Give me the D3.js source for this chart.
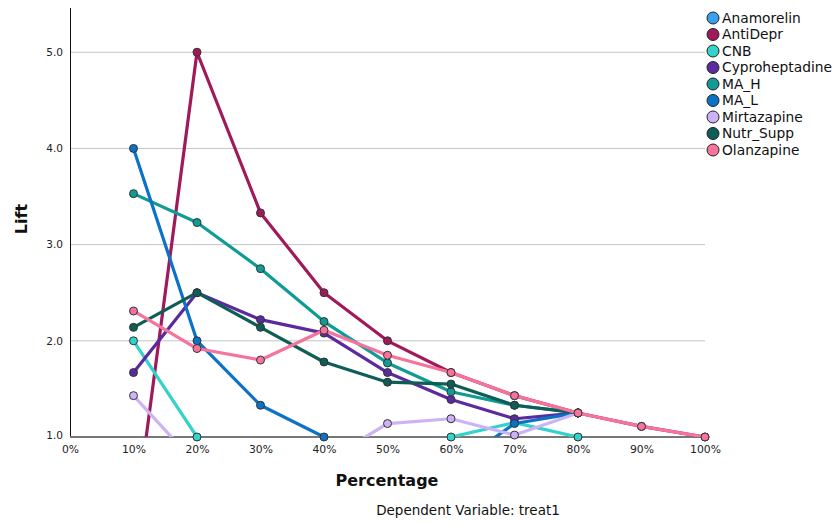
<!DOCTYPE html>
<html>
<head>
<meta charset="utf-8">
<script src="https://cdn.jsdelivr.net/npm/d3@7"></script>
<style>
  body { margin: 0; background: #fff; }
  text { font-family: "DejaVu Sans", sans-serif; }
</style>
</head>
<body>
<svg width="839" height="524"></svg>
<script>
// x categories (percentiles)
var pcts = [10, 20, 30, 40, 50, 60, 70, 80, 90, 100];

// series names + colours (legend order)
var seriesNames = ["Anamorelin", "AntiDepr", "CNB", "Cyproheptadine", "MA_H", "MA_L", "Mirtazapine", "Nutr_Supp", "Olanzapine"];
var seriesColors = ["#3aa0ee", "#a0195a", "#33d2ca", "#5b2a9e", "#109b94", "#0b72c6", "#cdb3f6", "#0d5e56", "#f6739c"];

// lift values (below 1.0 is clipped by the plot)
var anamorelin = [0, 0, 0, 0, 0, 0, 0, 0];
var antiDepr   = [0, 5.0, 3.33, 2.5, 2.0, 1.67, 1.43, 1.25, 1.11, 1.0];
var cnb        = [2.0, 1.0, 0.67, 0.5, 0.57, 1.0, 1.15, 1.0];
var cypro      = [1.67, 2.5, 2.22, 2.08, 1.67, 1.39, 1.19, 1.25];
var maH        = [3.53, 3.23, 2.75, 2.2, 1.77, 1.47, 1.33, 1.25];
var maL        = [4.0, 2.0, 1.33, 1.0, 0.8, 0.67, 1.14, 1.25];
var mirtaz     = [1.43, 0.71, 0.5, 0.74, 1.14, 1.19, 1.02, 1.25];
var nutrSupp   = [2.14, 2.5, 2.14, 1.78, 1.57, 1.55, 1.33, 1.25];
var olanz      = [2.31, 1.92, 1.8, 2.11, 1.85, 1.67, 1.43, 1.25, 1.11, 1.0];

var allValues = [anamorelin, antiDepr, cnb, cypro, maH, maL, mirtaz, nutrSupp, olanz];

var yTicks = [1, 2, 3, 4, 5];
var xTicks = [0, 10, 20, 30, 40, 50, 60, 70, 80, 90, 100];

var svg = d3.select("svg");
var pLeft = 70, pRight = 705, pTop = 8, pBottom = 437;

var x = d3.scaleLinear().domain([0, 100]).range([pLeft, pRight]);
var y = d3.scaleLinear().domain([1, 5.46]).range([pBottom, pTop]);

// clip so the lines stop at the 1.0 baseline
svg.append("clipPath").attr("id", "plotclip")
  .append("rect")
  .attr("x", pLeft).attr("y", 0)
  .attr("width", pRight - pLeft + 10).attr("height", pBottom);

// gridlines
svg.append("g").selectAll("line")
  .data(yTicks.filter(function(d) { return d > 1; }))
  .enter().append("line")
    .attr("x1", pLeft).attr("x2", pRight)
    .attr("y1", function(d) { return y(d); })
    .attr("y2", function(d) { return y(d); })
    .attr("stroke", "#c4c4c4")
    .attr("stroke-width", 1);

// y axis
var yAxis = svg.append("g")
  .attr("transform", "translate(" + pLeft + ",0)")
  .call(d3.axisLeft(y).tickValues(yTicks).tickFormat(d3.format(".1f")).tickSize(0).tickPadding(7));
yAxis.select(".domain").remove();
yAxis.selectAll("text").attr("font-size", "10.5px").attr("fill", "#222")
  .attr("font-family", "DejaVu Sans, sans-serif")
  .attr("dy", function(d) { return d == 1 ? "0.1em" : "0.32em"; });

svg.append("line")
  .attr("x1", pLeft + 0.5).attr("x2", pLeft + 0.5)
  .attr("y1", pTop).attr("y2", pBottom)
  .attr("stroke", "#111").attr("stroke-width", 1);

// x axis
var xAxis = svg.append("g")
  .attr("transform", "translate(0," + pBottom + ")")
  .call(d3.axisBottom(x).tickValues(xTicks).tickFormat(function(d) { return d + "%"; }).tickSize(0).tickPadding(8));
xAxis.select(".domain").remove();
xAxis.selectAll("text").attr("font-size", "10.8px").attr("fill", "#222")
  .attr("font-family", "DejaVu Sans, sans-serif");

svg.append("line")
  .attr("x1", pLeft).attr("x2", pRight)
  .attr("y1", pBottom).attr("y2", pBottom)
  .attr("stroke", "#777").attr("stroke-width", 2);

// series
var line = d3.line()
  .x(function(d, i) { return x(pcts[i]); })
  .y(function(d) { return y(d); });

var plot = svg.append("g");
allValues.forEach(function(vals, k) {
  plot.append("path")
    .datum(vals)
    .attr("clip-path", "url(#plotclip)")
    .attr("fill", "none")
    .attr("stroke", seriesColors[k])
    .attr("stroke-width", 3.2)
    .attr("stroke-linejoin", "round")
    .attr("d", line);

  plot.selectAll(".dot" + k)
    .data(vals.map(function(v, i) { return {v: v, i: i}; }).filter(function(d) { return d.v >= 1; }))
    .enter().append("circle")
      .attr("class", "dot" + k)
      .attr("cx", function(d) { return x(pcts[d.i]); })
      .attr("cy", function(d) { return y(d.v); })
      .attr("r", 4)
      .attr("fill", seriesColors[k])
      .attr("stroke", "#333")
      .attr("stroke-width", 1);
});

// axis titles
svg.append("text")
  .attr("transform", "translate(27," + 219 + ") rotate(-90)")
  .attr("text-anchor", "middle")
  .attr("font-size", "16px").attr("font-weight", "bold").attr("fill", "#111")
  .text("Lift");

svg.append("text")
  .attr("x", 387).attr("y", 486)
  .attr("text-anchor", "middle")
  .attr("font-size", "16px").attr("font-weight", "bold").attr("fill", "#111")
  .text("Percentage");

svg.append("text")
  .attr("x", 468).attr("y", 515)
  .attr("text-anchor", "middle")
  .attr("font-size", "13.5px").attr("fill", "#111")
  .text("Dependent Variable: treat1");

// legend
var legend = svg.append("g").attr("transform", "translate(713,18)");
var item = legend.selectAll("g")
  .data(seriesNames)
  .enter().append("g")
    .attr("transform", function(d, i) { return "translate(0," + (i * 16.5) + ")"; });
item.append("circle")
  .attr("r", 6)
  .attr("fill", function(d, i) { return seriesColors[i]; })
  .attr("stroke", "#222").attr("stroke-width", 1);
item.append("text")
  .attr("x", 9).attr("dy", "0.36em")
  .attr("font-size", "13.8px").attr("fill", "#111")
  .text(function(d) { return d; });
</script>
</body>
</html>
